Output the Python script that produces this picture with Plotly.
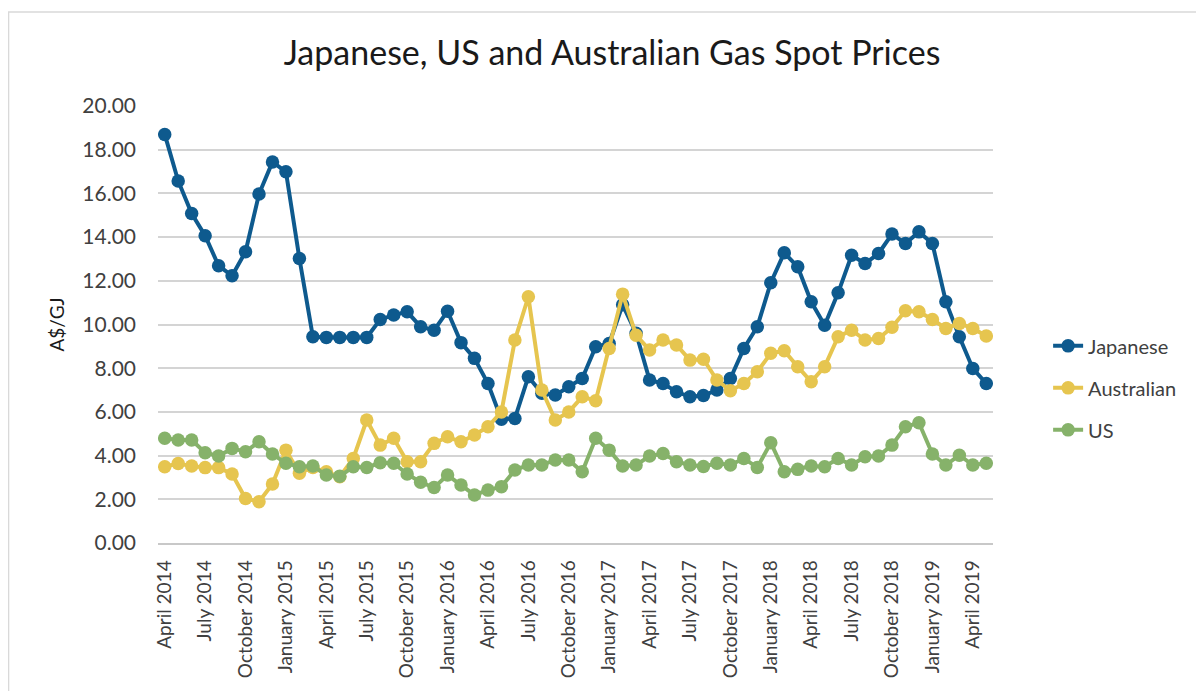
import pandas as pd
import plotly.graph_objects as go

# Categories: monthly, April 2014 .. May 2019
months = list(pd.date_range("2014-04-01", periods=62, freq="MS").strftime("%B %Y"))
tick_labels = months[::3]  # April 2014 ... April 2019

japanese = [18.70, 16.57, 15.08, 14.06, 12.69, 12.23, 13.33, 15.97, 17.44, 16.99,
            13.02, 9.44, 9.41, 9.41, 9.41, 9.41, 10.23, 10.43, 10.58, 9.90,
            9.74, 10.61, 9.17, 8.45, 7.30, 5.66, 5.70, 7.61, 6.85, 6.77,
            7.15, 7.53, 8.98, 9.13, 10.90, 9.60, 7.46, 7.30, 6.92, 6.69,
            6.75, 7.00, 7.53, 8.90, 9.90, 11.91, 13.28, 12.64, 11.04, 9.97,
            11.45, 13.17, 12.79, 13.25, 14.14, 13.71, 14.24, 13.71, 11.04, 9.44,
            7.99, 7.30]

australian = [3.49, 3.64, 3.52, 3.45, 3.45, 3.16, 2.04, 1.89, 2.70, 4.25,
              3.19, 3.46, 3.26, 3.03, 3.87, 5.63, 4.48, 4.79, 3.72, 3.72,
              4.56, 4.86, 4.63, 4.94, 5.32, 6.00, 9.29, 11.27, 7.00, 5.63,
              6.00, 6.69, 6.51, 8.90, 11.39, 9.51, 8.83, 9.29, 9.06, 8.37,
              8.41, 7.46, 6.97, 7.30, 7.84, 8.68, 8.80, 8.07, 7.38, 8.07,
              9.44, 9.74, 9.29, 9.36, 9.87, 10.63, 10.58, 10.23, 9.82, 10.05,
              9.82, 9.47]

us = [4.79, 4.71, 4.71, 4.13, 3.98, 4.33, 4.18, 4.63, 4.07, 3.65,
      3.49, 3.52, 3.11, 3.06, 3.49, 3.46, 3.67, 3.65, 3.16, 2.78,
      2.54, 3.11, 2.65, 2.20, 2.42, 2.58, 3.34, 3.57, 3.57, 3.80,
      3.80, 3.26, 4.79, 4.25, 3.52, 3.57, 3.98, 4.10, 3.72, 3.57,
      3.50, 3.65, 3.57, 3.87, 3.46, 4.59, 3.26, 3.37, 3.52, 3.49,
      3.87, 3.57, 3.95, 3.98, 4.48, 5.32, 5.50, 4.07, 3.57, 4.02,
      3.57, 3.65]

series = [
    ("Japanese", japanese, "#0E5A8E"),
    ("Australian", australian, "#E6C54F"),
    ("US", us, "#86B26A"),
]

FONT = "Lato, Calibri, sans-serif"

fig = go.Figure()
for name, vals, color in series:
    fig.add_trace(go.Scatter(
        x=months, y=vals, name=name, mode="lines+markers",
        legendgroup=name,
        line=dict(color=color, width=4),
        marker=dict(color=color, size=13.5),
        hoverinfo="skip",
    ))

fig.update_layout(
    width=1204, height=691,
    margin=dict(l=150, r=219, t=98, b=156),
    paper_bgcolor="white", plot_bgcolor="white",
    font=dict(family=FONT, color="#404040", size=19),
    title=dict(
        text="Japanese, US and Australian Gas Spot Prices",
        x=0.5017, xanchor="center", xref="container",
        y=0.935, yanchor="middle", yref="container",
        font=dict(family=FONT, size=34, color="#1a1a1a"),
    ),
    showlegend=True,
    legend=dict(
        x=1.066, xanchor="left", y=0.355, yanchor="middle",
        font=dict(family=FONT, size=20, color="#404040"),
        tracegroupgap=13,
        bgcolor="rgba(0,0,0,0)",
    ),
    shapes=[dict(
        type="rect", xref="paper", yref="paper",
        x0=-0.179, x1=1.30, y0=-0.40, y1=1.215,
        line=dict(color="#d9d9d9", width=1.5), fillcolor="rgba(0,0,0,0)",
        layer="below",
    )],
)

fig.update_xaxes(
    type="category", categoryorder="array", categoryarray=months,
    range=[-0.5, len(months) - 0.5],
    tickmode="array", tickvals=tick_labels, ticktext=tick_labels,
    tickangle=-90, showgrid=False, zeroline=False,
    showline=True, linecolor="#c8c8c8", linewidth=1.5,
    ticks="", ticklabelstandoff=8,
    tickfont=dict(family=FONT, size=19, color="#404040"),
)

fig.update_yaxes(
    range=[0, 20], dtick=2, tickformat=".2f",
    showgrid=True, gridcolor="#d4d4d4", gridwidth=1.5,
    zeroline=False, showline=False, ticks="",
    ticklabelstandoff=21,
    tickfont=dict(family=FONT, size=21, color="#404040"),
    title=dict(text="A$/GJ", standoff=12,
               font=dict(family=FONT, size=19, color="#1a1a1a")),
)

fig.write_html("out.html", config={"displayModeBar": False})
